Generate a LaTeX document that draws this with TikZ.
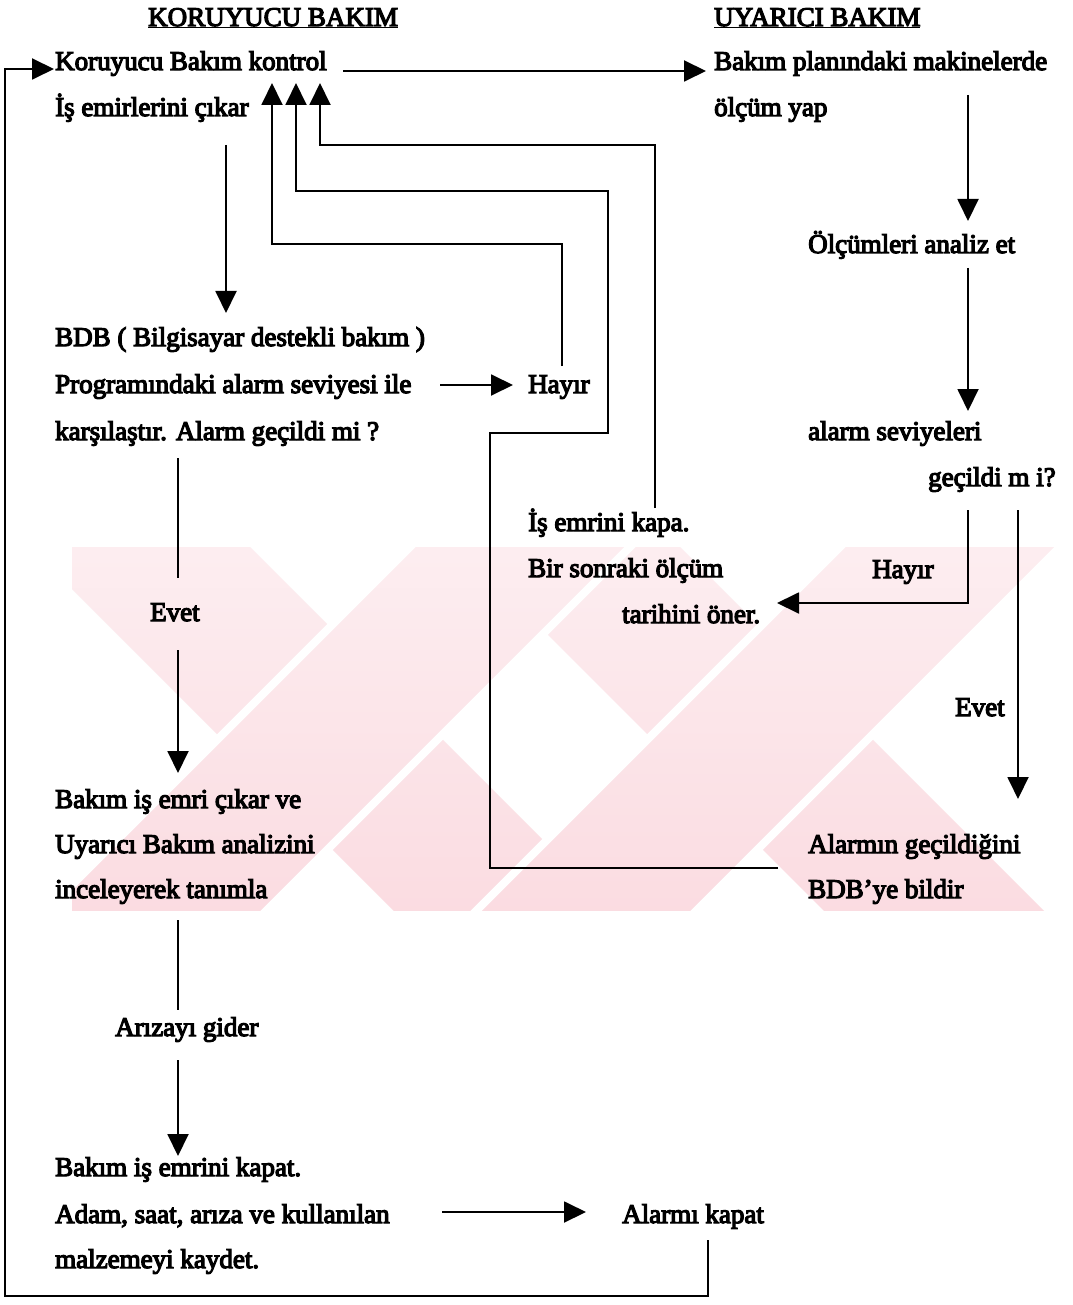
\documentclass[tikz,border=0pt]{standalone}
\usepackage{fontspec}
\setmainfont{Liberation Serif}[FakeBold=4.5]
\usetikzlibrary{arrows.meta}
\definecolor{markpink}{RGB}{250,216,222}
\tikzset{
  lbl/.style={anchor=base west, inner sep=0pt, font=\fontsize{27}{46}\selectfont},
  wire/.style={line width=1.9pt, line join=miter},
  arr/.style={wire, -{Triangle[width=21pt,length=22pt]}},
}
\begin{document}
\begin{tikzpicture}[x=1pt,y=-1pt]
\useasboundingbox (0,0) rectangle (1072,1305);
\fill[white] (0,0) rectangle (1072,1305);

% faint background emblem: two crossed pairs of diagonal bars
\begin{scope}
  \clip (72,547) rectangle (1072,910);
  \begin{scope}
    \clip (20,537) -- (240,537) -- (620,917) -- (400,917) -- cycle
          (420,537) -- (640,537) -- (260,917) -- (40,917) -- cycle
          (450,537) -- (670,537) -- (1050,917) -- (830,917) -- cycle
          (850,537) -- (1070,537) -- (690,917) -- (470,917) -- cycle;
    \shade[top color=markpink!45, bottom color=markpink!90] (60,547) rectangle (1072,910);
  \end{scope}
  \draw[white, line width=8pt] (420,537) -- (40,917) (640,537) -- (260,917);
  \draw[white, line width=8pt] (850,537) -- (470,917) (1070,537) -- (690,917);
\end{scope}

% column headings
\node[lbl] (hk) at (148,26) {\underline{KORUYUCU BAKIM}};
\node[lbl] (hu) at (714,26) {\underline{UYARICI BAKIM}};

% left column: preventive maintenance
\node[lbl] (k1a) at (55,70)  {Koruyucu Bakım kontrol};
\node[lbl] (k1b) at (55,116) {İş emirlerini çıkar};
\node[lbl] (k2a) at (55,346) {BDB ( Bilgisayar destekli bakım )};
\node[lbl] (k2b) at (55,393) {Programındaki alarm seviyesi ile};
\node[lbl] (k2c) at (55,440) {karşılaştır. Alarm geçildi mi ?};
\node[lbl] (hay1) at (528,393) {Hayır};
\node[lbl] (ev1) at (150,621) {Evet};
\node[lbl] (k3a) at (55,808) {Bakım iş emri çıkar ve};
\node[lbl] (k3b) at (55,853) {Uyarıcı Bakım analizini};
\node[lbl] (k3c) at (55,898) {inceleyerek tanımla};
\node[lbl] (ar) at (115,1036) {Arızayı gider};
\node[lbl] (k4a) at (55,1176) {Bakım iş emrini kapat.};
\node[lbl] (k4b) at (55,1223) {Adam, saat, arıza ve kullanılan};
\node[lbl] (k4c) at (55,1268) {malzemeyi kaydet.};
\node[lbl] (ak) at (622,1223) {Alarmı kapat};

% right column: predictive maintenance
\node[lbl] (u1a) at (714,70)  {Bakım planındaki makinelerde};
\node[lbl] (u1b) at (714,116) {ölçüm yap};
\node[lbl] (u2) at (808,253) {Ölçümleri analiz et};
\node[lbl] (u3a) at (808,440) {alarm seviyeleri};
\node[lbl] (u3b) at (928,486) {geçildi m i?};
\node[lbl] (ie1) at (528,531) {İş emrini kapa.};
\node[lbl] (ie2) at (528,577) {Bir sonraki ölçüm};
\node[lbl] (ie3) at (622,623) {tarihini öner.};
\node[lbl] (hay2) at (872,578) {Hayır};
\node[lbl] (ev2) at (955,716) {Evet};
\node[lbl] (ag1) at (808,853) {Alarmın geçildiğini};
\node[lbl] (ag2) at (808,898) {BDB’ye bildir};

% arrow tips under the control step
\coordinate (pA) at (272,83);
\coordinate (pB) at (296,83);
\coordinate (pC) at (320,83);

% main flow, left column
\draw[arr] (226,145) -- (226,313);
\draw[arr] (440,385) -- (513,385);
\draw[wire] (178,458) -- (178,578);
\draw[arr] (178,650) -- (178,773);
\draw[wire] (178,920) -- (178,1010);
\draw[arr] (178,1060) -- (178,1156);
\draw[arr] (442,1212) -- (586,1212);
\draw[arr] (708,1240) -- (708,1296) -- (5,1296) -- (5,69) -- (54,69);

% preventive to predictive
\draw[arr] (343,71) -- (706,71);

% returns to the control step
\draw[arr] (562,366) -- (562,244) -- (272,244) -- (pA);
\draw[arr] (778,868) -- (490,868) -- (490,433) -- (608,433) -- (608,191) -- (296,191) -- (pB);
\draw[arr] (655,508) -- (655,145) -- (320,145) -- (pC);

% right column flow
\draw[arr] (968,95) -- (968,221);
\draw[arr] (968,268) -- (968,411);
\draw[arr] (968,510) -- (968,603) -- (777,603);
\draw[arr] (1018,510) -- (1018,799);
\end{tikzpicture}
\end{document}
